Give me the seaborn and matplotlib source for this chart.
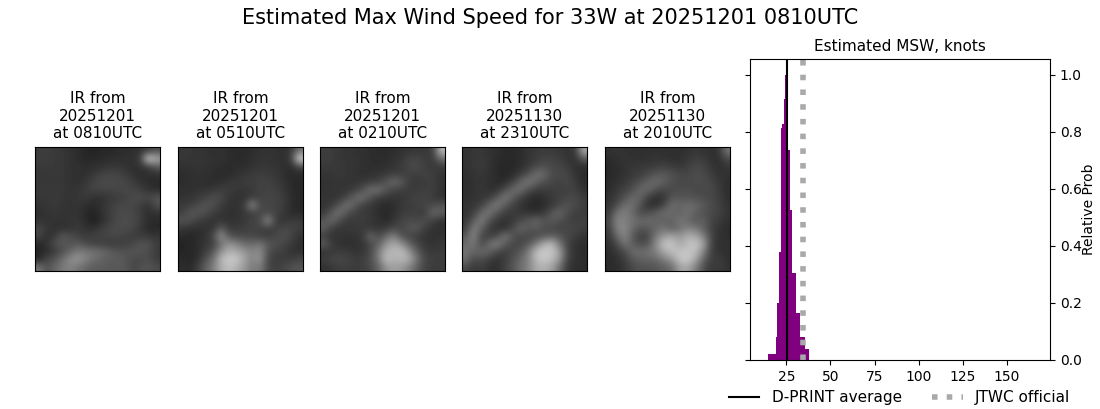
import numpy as np
import pandas as pd
import matplotlib
matplotlib.use("Agg")
import matplotlib.pyplot as plt
import seaborn as sns

# ====== Values ======
storm_title = "Estimated Max Wind Speed for 33W at 20251201 0810UTC"
panel_dates = ["20251201", "20251201", "20251201", "20251130", "20251130"]
panel_times = ["0810UTC", "0510UTC", "0210UTC", "2310UTC", "2010UTC"]

# coarse IR brightness per panel, 0-255, top row first
ir_0810 = [
    [60, 60, 58, 55, 50, 45, 38, 36, 38, 40, 42, 45, 45, 50, 60, 75],
    [62, 60, 58, 55, 50, 45, 40, 40, 42, 45, 48, 48, 50, 60, 220, 170],
    [58, 58, 58, 55, 50, 48, 45, 48, 50, 55, 55, 50, 48, 50, 60, 90],
    [55, 55, 58, 55, 50, 48, 48, 55, 68, 70, 68, 62, 50, 45, 45, 50],
    [55, 55, 55, 55, 50, 48, 55, 68, 72, 75, 72, 70, 62, 50, 45, 40],
    [58, 58, 58, 55, 52, 52, 60, 68, 70, 68, 70, 72, 68, 62, 50, 45],
    [55, 55, 58, 55, 50, 55, 60, 50, 48, 55, 60, 65, 72, 80, 70, 85],
    [50, 55, 58, 52, 48, 55, 45, 42, 50, 62, 68, 72, 72, 60, 50, 80],
    [48, 50, 55, 52, 52, 50, 42, 35, 48, 62, 72, 75, 70, 62, 45, 50],
    [50, 52, 50, 50, 52, 55, 42, 30, 42, 60, 72, 78, 75, 62, 45, 42],
    [72, 55, 48, 48, 50, 58, 50, 48, 62, 70, 78, 75, 70, 55, 40, 40],
    [70, 48, 55, 90, 80, 65, 60, 65, 68, 70, 70, 65, 60, 62, 55, 55],
    [38, 50, 80, 85, 80, 90, 72, 65, 62, 60, 60, 62, 72, 80, 85, 60],
    [35, 45, 55, 80, 100, 125, 120, 115, 110, 95, 85, 82, 85, 85, 75, 60],
    [40, 70, 85, 110, 140, 150, 130, 110, 100, 90, 95, 85, 75, 70, 80, 60],
    [120, 80, 100, 120, 130, 115, 100, 90, 90, 90, 85, 90, 70, 80, 85, 75],
]
ir_0510 = [
    [55, 55, 52, 50, 48, 48, 45, 42, 42, 45, 50, 50, 50, 48, 55, 110],
    [55, 55, 52, 52, 50, 50, 45, 42, 42, 48, 52, 52, 50, 48, 60, 220],
    [50, 50, 52, 52, 48, 46, 45, 45, 45, 50, 55, 55, 52, 48, 45, 70],
    [45, 48, 50, 48, 46, 42, 42, 48, 55, 58, 62, 60, 55, 48, 40, 42],
    [45, 46, 48, 46, 44, 48, 55, 58, 60, 62, 65, 65, 60, 52, 42, 40],
    [48, 48, 50, 52, 55, 62, 60, 55, 55, 58, 66, 68, 65, 55, 42, 38],
    [50, 52, 58, 65, 78, 72, 55, 48, 50, 58, 66, 68, 68, 60, 45, 40],
    [58, 62, 72, 85, 80, 62, 50, 50, 58, 150, 70, 70, 68, 62, 45, 38],
    [62, 85, 88, 78, 62, 52, 48, 50, 55, 62, 70, 72, 68, 55, 42, 42],
    [85, 78, 62, 55, 50, 52, 50, 50, 58, 66, 72, 150, 62, 50, 62, 58],
    [55, 50, 48, 50, 52, 95, 60, 58, 62, 68, 66, 60, 62, 72, 70, 62],
    [42, 38, 42, 50, 72, 150, 85, 75, 72, 70, 62, 60, 72, 80, 68, 50],
    [36, 38, 45, 55, 60, 110, 150, 130, 110, 105, 120, 90, 78, 70, 60, 45],
    [38, 40, 42, 60, 85, 145, 175, 170, 150, 130, 145, 80, 65, 62, 50, 48],
    [42, 38, 45, 80, 110, 185, 205, 200, 165, 130, 150, 72, 60, 60, 62, 70],
    [45, 42, 60, 95, 125, 170, 190, 175, 150, 120, 125, 72, 62, 70, 80, 85],
]
ir_0210 = [
    [62, 60, 55, 52, 50, 48, 45, 42, 42, 46, 50, 52, 55, 55, 62, 190],
    [62, 60, 55, 52, 52, 50, 46, 44, 46, 50, 55, 70, 68, 60, 60, 110],
    [58, 58, 56, 54, 52, 48, 46, 46, 48, 52, 60, 72, 75, 62, 55, 60],
    [52, 54, 56, 54, 50, 48, 50, 52, 58, 62, 62, 65, 60, 68, 62, 52],
    [50, 52, 54, 52, 52, 55, 60, 65, 85, 110, 90, 60, 58, 60, 62, 50],
    [50, 52, 52, 54, 60, 80, 115, 115, 85, 68, 62, 58, 60, 62, 66, 48],
    [52, 52, 54, 70, 105, 115, 80, 60, 55, 52, 55, 62, 66, 68, 58, 48],
    [52, 58, 85, 120, 90, 62, 55, 48, 42, 46, 55, 62, 65, 68, 72, 85],
    [58, 90, 120, 80, 62, 60, 55, 45, 38, 48, 60, 62, 60, 62, 110, 95],
    [85, 110, 72, 58, 58, 60, 55, 48, 42, 55, 70, 75, 72, 80, 60, 48],
    [95, 62, 55, 55, 58, 58, 55, 52, 60, 72, 70, 85, 90, 58, 52, 48],
    [62, 50, 52, 50, 50, 58, 110, 72, 105, 130, 78, 70, 58, 52, 48, 50],
    [95, 62, 48, 45, 50, 52, 75, 95, 150, 170, 145, 95, 70, 55, 50, 55],
    [50, 55, 62, 58, 50, 55, 70, 125, 175, 185, 190, 145, 90, 60, 58, 60],
    [62, 70, 72, 68, 62, 62, 80, 120, 195, 170, 185, 170, 110, 70, 62, 62],
    [48, 55, 62, 62, 60, 62, 72, 100, 145, 160, 150, 125, 90, 65, 60, 60],
]
ir_2310 = [
    [52, 55, 55, 50, 46, 42, 42, 44, 52, 58, 60, 58, 55, 52, 55, 170],
    [50, 55, 58, 52, 44, 40, 40, 44, 52, 60, 66, 66, 62, 52, 48, 90],
    [50, 55, 58, 50, 42, 38, 40, 46, 56, 72, 80, 72, 70, 60, 48, 45],
    [48, 52, 56, 50, 42, 38, 44, 60, 80, 115, 105, 75, 72, 70, 52, 44],
    [46, 50, 54, 48, 42, 45, 62, 100, 125, 100, 78, 70, 66, 72, 58, 44],
    [46, 50, 54, 48, 50, 75, 110, 115, 78, 60, 60, 62, 62, 66, 66, 48],
    [48, 50, 55, 60, 85, 125, 95, 65, 50, 42, 48, 58, 65, 68, 72, 60],
    [52, 55, 62, 100, 130, 90, 65, 52, 42, 36, 45, 55, 72, 85, 75, 62],
    [52, 62, 105, 125, 80, 62, 58, 56, 50, 48, 58, 85, 105, 75, 62, 60],
    [55, 90, 130, 78, 58, 50, 55, 72, 90, 105, 85, 92, 78, 68, 62, 65],
    [62, 130, 100, 60, 50, 46, 72, 105, 85, 90, 75, 70, 66, 70, 70, 62],
    [85, 140, 66, 62, 72, 125, 85, 70, 72, 72, 85, 95, 85, 72, 62, 50],
    [105, 120, 72, 110, 135, 90, 72, 70, 85, 125, 175, 190, 120, 66, 50, 46],
    [115, 100, 105, 100, 72, 62, 72, 85, 125, 190, 205, 195, 160, 72, 48, 44],
    [110, 72, 78, 62, 48, 62, 80, 105, 130, 185, 200, 190, 150, 65, 50, 46],
    [72, 55, 62, 50, 46, 66, 85, 110, 130, 170, 175, 160, 110, 55, 46, 45],
]
ir_2010 = [
    [50, 52, 50, 46, 46, 48, 50, 48, 46, 46, 50, 55, 50, 48, 52, 120],
    [44, 48, 52, 50, 48, 50, 52, 50, 48, 48, 55, 62, 60, 48, 48, 75],
    [40, 44, 50, 55, 56, 58, 62, 66, 60, 56, 62, 72, 70, 55, 45, 55],
    [40, 45, 50, 58, 62, 72, 85, 90, 80, 72, 70, 78, 72, 62, 50, 50],
    [42, 48, 56, 66, 78, 100, 110, 95, 80, 72, 72, 76, 78, 70, 55, 48],
    [44, 55, 66, 78, 105, 105, 80, 72, 72, 75, 78, 72, 72, 72, 60, 45],
    [48, 62, 80, 105, 100, 62, 45, 50, 88, 85, 85, 80, 75, 72, 62, 46],
    [52, 75, 110, 115, 80, 48, 45, 72, 110, 100, 108, 105, 90, 76, 66, 50],
    [58, 115, 130, 105, 72, 78, 95, 110, 105, 95, 115, 95, 80, 72, 66, 52],
    [68, 135, 125, 115, 105, 110, 100, 95, 100, 120, 105, 85, 100, 68, 60, 48],
    [62, 125, 140, 105, 85, 90, 100, 118, 90, 110, 130, 120, 95, 65, 52, 45],
    [52, 105, 135, 90, 60, 70, 125, 150, 170, 150, 175, 170, 130, 70, 50, 44],
    [48, 70, 120, 95, 75, 85, 140, 200, 195, 165, 190, 200, 165, 66, 48, 50],
    [46, 55, 72, 110, 110, 115, 130, 170, 190, 195, 195, 190, 135, 62, 52, 46],
    [42, 48, 62, 85, 95, 100, 105, 125, 150, 195, 205, 170, 100, 60, 62, 48],
    [42, 45, 55, 72, 82, 80, 85, 95, 105, 160, 165, 125, 78, 55, 60, 50],
]
panel_images = [ir_0810, ir_0510, ir_0210, ir_2310, ir_2010]

# histogram of max wind speed
bin_edges = [14.4, 18.95, 19.5, 20.65, 21.8, 22.35, 23.5, 24.05, 25.75, 26.9, 28.0, 30.3, 32.55, 35.4, 37.65]
bin_probs = [0.019, 0.082, 0.198, 0.377, 0.814, 0.828, 0.916, 1.0, 0.737, 0.527, 0.303, 0.163, 0.079, 0.037]
dprint_average = 25.5
jtwc_official = 34.6
wind_ticks = [25, 50, 75, 100, 125, 150]
prob_ticks = [0.0, 0.2, 0.4, 0.6, 0.8, 1.0]

W, H = 1100, 409


def px_axes(fig, left, top, right, bottom):
    # axes box given in picture pixels
    return fig.add_axes([left / W, 1 - bottom / H, (right - left) / W, (bottom - top) / H])


fig = plt.figure(figsize=(W / 100, H / 100), dpi=100)
fig.suptitle(storm_title, fontsize=15, x=0.5, y=1 - 18 / H, va="center")

# ====== IR panels ======
panel_lefts = [35, 178, 320, 462, 605]
for left, img, day, utc in zip(panel_lefts, panel_images, panel_dates, panel_times):
    ax = px_axes(fig, left, 147, left + 125, 271)
    ax.imshow(np.array(img), cmap="gray", vmin=0, vmax=255, aspect="auto", interpolation="bicubic")
    ax.set_xticks([])
    ax.set_yticks([])
    ax.set_title(f"IR from\n{day}\nat {utc}", fontsize=11, pad=6.5)

# ====== Probability histogram ======
edges = np.array(bin_edges)
hist_df = pd.DataFrame({"wind": (edges[:-1] + edges[1:]) / 2, "prob": bin_probs})

ax = px_axes(fig, 750.2, 59.2, 1050.2, 359.9)
sns.histplot(data=hist_df, x="wind", weights="prob", bins=bin_edges, color="purple",
             alpha=1, linewidth=0, legend=False, ax=ax)
avg_line = ax.axvline(dprint_average, color="black", linewidth=1.5, label="D-PRINT average")
jtwc_line = ax.axvline(jtwc_official, color="darkgray", linewidth=4, linestyle=":", label="JTWC official")
ax.set_xlim(4.5, 174.5)
ax.set_ylim(0, 1.054)
ax.set_xticks(wind_ticks)
ax.set_yticks(prob_ticks)
ax.tick_params(left=True, right=True, labelleft=False, labelright=True, labelsize=10)
ax.yaxis.set_label_position("right")
ax.set_xlabel("")
ax.set_ylabel("Relative Prob", fontsize=10, labelpad=0)
ax.set_title("Estimated MSW, knots", fontsize=11)

fig.legend(handles=[avg_line, jtwc_line], ncol=2, frameon=False, fontsize=11,
           loc="center", bbox_to_anchor=(899.5 / W, 1 - 397.5 / H))

fig.savefig("out.png", dpi=100)
